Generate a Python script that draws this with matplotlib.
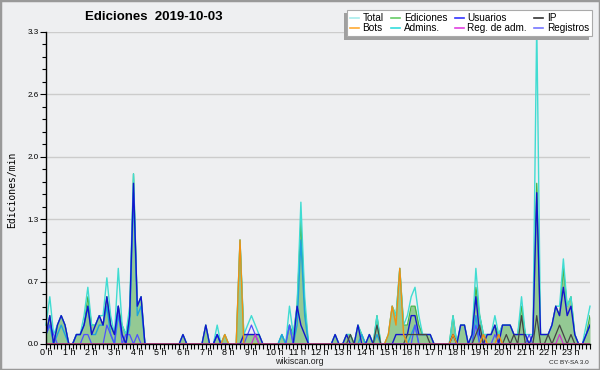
import matplotlib
matplotlib.use("Agg")
import matplotlib.pyplot as plt
from matplotlib.lines import Line2D
from matplotlib.patches import Rectangle
import numpy as np

# 10-minute bins (144 per day), values in edits per minute
total = [0.2,0.5,0.1,0.2,0.3,0.2, 0,0,0.1,0.1,0.3,0.6,
         0.2,0.2,0.3,0.3,0.7,0.3, 0.1,0.8,0.2,0.1,0.4,1.8,
         0.4,0.5,0,0,0,0, 0,0,0,0,0,0,
         0.1,0,0,0,0,0, 0.2,0,0,0.2,0,0.1,
         0,0,0,1.1,0.1,0.2, 0.3,0.2,0.1,0,0,0,
         0,0,0.1,0,0.4,0.1, 0.4,1.5,0.5,0,0,0,
         0,0,0,0,0.1,0, 0,0.1,0.1,0,0.2,0.1,
         0,0.1,0,0.3,0,0, 0.1,0.4,0.3,0.8,0.2,0.3,
         0.5,0.6,0.3,0.1,0.1,0.1, 0,0,0,0,0,0.3,
         0,0.2,0.2,0,0.1,0.8, 0.3,0.1,0.1,0.1,0.3,0.1,
         0.2,0.2,0.2,0.1,0.1,0.5, 0.1,0.1,0.1,3.4,0.1,0.1,
         0.1,0.2,0.4,0.4,0.9,0.4, 0.5,0.1,0,0,0.2,0.4]

edits = [0.1,0.3,0,0.2,0.3,0.2, 0,0,0.1,0.1,0.2,0.5,
         0.2,0.2,0.3,0.2,0.5,0.2, 0.1,0.4,0.2,0.1,0.3,1.8,
         0.4,0.5,0,0,0,0, 0,0,0,0,0,0,
         0.1,0,0,0,0,0, 0.2,0,0,0.1,0,0.1,
         0,0,0,1.1,0.1,0.1, 0.1,0.1,0.1,0,0,0,
         0,0,0.1,0,0.2,0.1, 0.4,1.3,0.4,0,0,0,
         0,0,0,0,0.1,0, 0,0.1,0.1,0,0.2,0.1,
         0,0.1,0,0.3,0,0, 0.1,0.4,0.3,0.8,0.2,0.2,
         0.4,0.4,0.2,0.1,0.1,0.1, 0,0,0,0,0,0.3,
         0,0.2,0.2,0,0.1,0.6, 0.3,0.1,0.1,0.1,0.2,0.1,
         0.2,0.2,0.2,0.1,0.1,0.4, 0.1,0,0.1,1.7,0.1,0.1,
         0.1,0.2,0.4,0.3,0.8,0.4, 0.5,0.1,0,0,0.1,0.3]

users = [0.1,0.3,0,0.2,0.3,0.2, 0,0,0.1,0.1,0.2,0.4,
         0.1,0.2,0.3,0.2,0.5,0.2, 0.1,0.4,0.1,0,0.3,1.7,
         0.4,0.5,0,0,0,0, 0,0,0,0,0,0,
         0.1,0,0,0,0,0, 0.2,0,0,0.1,0,0,
         0,0,0,0,0.1,0.1, 0.1,0.1,0.1,0,0,0,
         0,0,0,0,0,0, 0.4,0.2,0.1,0,0,0,
         0,0,0,0,0.1,0, 0,0.1,0,0,0.2,0,
         0,0.1,0,0,0,0, 0,0,0.1,0.1,0.1,0.1,
         0.3,0.3,0.1,0.1,0.1,0.1, 0,0,0,0,0,0.1,
         0,0.2,0.2,0,0.1,0.5, 0.1,0,0.1,0.1,0.2,0,
         0.2,0.2,0.2,0.1,0.1,0.1, 0.1,0,0.1,1.6,0.1,0.1,
         0.1,0.2,0.4,0.3,0.6,0.3, 0.4,0.1,0,0,0.1,0.2]

ip = [0,0,0,0,0,0, 0,0,0,0,0,0,
      0,0,0,0,0,0, 0,0,0,0,0,0,
      0,0,0,0,0,0, 0,0,0,0,0,0,
      0,0,0,0,0,0, 0,0,0,0,0,0,
      0,0,0,0,0,0, 0,0,0,0,0,0,
      0,0,0,0,0,0, 0,0,0,0,0,0,
      0,0,0,0,0,0, 0,0,0.1,0,0,0,
      0,0,0,0.2,0,0, 0,0,0,0,0,0.1,
      0.1,0.1,0.1,0.1,0.1,0, 0,0,0,0,0,0.1,
      0,0,0,0,0,0.1, 0.2,0,0,0,0,0,
      0,0.1,0,0.1,0,0.3, 0,0,0,0.3,0,0,
      0.1,0,0.1,0.2,0.1,0, 0.1,0,0,0,0,0]

bots = [0,0,0,0,0,0, 0,0,0,0,0,0,
        0,0,0,0,0,0, 0,0,0,0,0,0,
        0,0,0,0,0,0, 0,0,0,0,0,0,
        0,0,0,0,0,0, 0,0,0,0,0,0.1,
        0,0,0,1.1,0,0, 0,0,0,0,0,0,
        0,0,0,0,0,0, 0,0,0,0,0,0,
        0,0,0,0,0,0, 0,0,0,0,0,0,
        0,0,0,0,0,0, 0.1,0.4,0.2,0.8,0.1,0,
        0,0,0,0,0,0, 0,0,0,0,0,0.1,
        0,0,0,0,0,0, 0,0.1,0,0,0,0.1,
        0,0,0,0,0,0, 0,0,0,0,0,0,
        0,0,0,0,0,0, 0,0,0,0,0,0]

admins = [0.1,0.2,0,0.1,0.2,0.1, 0,0,0.1,0.1,0.2,0.4,
          0.1,0.1,0.2,0.2,0.4,0.1, 0,0.3,0.1,0,0.2,1.6,
          0.3,0.4,0,0,0,0, 0,0,0,0,0,0,
          0,0,0,0,0,0, 0,0,0,0.1,0,0,
          0,0,0,0,0,0, 0,0,0,0,0,0,
          0,0,0.1,0,0.2,0, 0.2,1.1,0.3,0,0,0,
          0,0,0,0,0,0, 0,0,0,0,0,0.1,
          0,0,0,0.1,0,0, 0,0,0,0,0,0,
          0.1,0.2,0,0,0,0, 0,0,0,0,0,0,
          0,0,0,0,0,0.3, 0,0,0,0,0,0,
          0,0,0,0,0,0, 0,0,0,0,0,0,
          0,0,0,0,0,0, 0,0,0,0,0.1,0.2]

admlogs = [0,0,0,0,0,0, 0,0,0,0,0,0,
           0,0,0,0,0,0, 0,0,0,0,0,0,
           0,0,0,0,0,0, 0,0,0,0,0,0,
           0,0,0,0,0,0, 0,0,0,0,0,0,
           0,0,0,0,0,0, 0,0.1,0,0,0,0,
           0,0,0,0,0,0, 0,0,0,0,0,0,
           0,0,0,0,0,0, 0,0,0,0,0,0,
           0,0,0,0,0,0, 0,0,0,0,0,0,
           0,0,0,0,0,0, 0,0,0,0,0,0,
           0,0,0,0,0,0, 0,0,0,0,0,0,
           0,0,0,0,0,0, 0,0,0,0,0,0,
           0,0,0,0.1,0,0, 0,0,0,0,0,0]

logs = [0.1,0.2,0.1,0,0,0, 0,0,0,0,0.1,0.1,
        0,0,0,0,0.2,0.1, 0,0.4,0,0.1,0.1,0,
        0.1,0,0,0,0,0, 0,0,0,0,0,0,
        0,0,0,0,0,0, 0,0,0,0.1,0,0,
        0,0,0,0,0,0.1, 0.2,0.1,0,0,0,0,
        0,0,0,0,0.2,0, 0,0,0,0,0,0,
        0,0,0,0,0,0, 0,0,0,0,0,0,
        0,0,0,0,0,0, 0,0,0,0,0,0,
        0,0.2,0,0,0,0, 0,0,0,0,0,0,
        0,0,0,0,0,0.2, 0,0,0,0,0.1,0,
        0,0,0,0,0,0, 0,0.1,0,0,0,0,
        0,0,0,0,0,0, 0,0,0,0,0,0]

hour_labels = [f"{h} h" for h in range(24)]
y_max = 3.3

BG = "#eeeff1"
plt.rcParams['font.family'] = ['Liberation Sans', 'DejaVu Sans']

fig = plt.figure(figsize=(6, 3.7), dpi=100, facecolor=BG)
ax = fig.add_axes([46/600, 1-344/370, 544/600, 312/370])
ax.set_facecolor(BG)

x = np.arange(len(total))
ax.fill_between(x, 0, edits, color="#94c994", lw=0, zorder=2)
ax.plot(x, edits, color="#44b444", lw=0.9, zorder=3)
ax.plot(x, total, color="#40dcd2", lw=1.0, zorder=4, clip_on=False)
ax.plot(x, admins, color="#1ea4dc", lw=1.0, zorder=5)
ax.plot(x, logs, color="#5050ff", lw=0.9, zorder=5)
ax.plot(x, users, color="#1414cc", lw=1.0, zorder=6)
ax.plot(x, ip, color="#444444", lw=0.9, zorder=6)
ax.plot(x, bots, color="#f09010", lw=1.0, zorder=7)
ax.plot(x, admlogs, color="#cc33cc", lw=0.9, zorder=7)

ax.set_xlim(0, len(total)-1)
ax.set_ylim(0, y_max)

major_y = np.linspace(0, y_max, 6)
ax.set_yticks(major_y)
ax.set_yticklabels([f"{v:.1f}" for v in major_y], fontsize=5.8)
ax.set_yticks(np.linspace(0, y_max, 26), minor=True)
for v in major_y[1:]:
    ax.axhline(v, color="#cccccc", lw=1, zorder=1)

ax.set_xticks(np.arange(0, 144, 6))
ax.set_xticklabels(hour_labels, fontsize=6.5)
ax.set_xticks(np.arange(0, 144, 1), minor=True)

ax.tick_params(axis='both', which='both', direction='out', length=4, width=0.8, color='black')
ax.tick_params(axis='x', which='both', length=3.5)
ax.tick_params(axis='y', which='minor', length=3)
ax.tick_params(axis='x', which='major', pad=-0.3)
ax.tick_params(axis='y', which='major', pad=1)
for s in ['top', 'right']:
    ax.spines[s].set_visible(False)
for s in ['left', 'bottom']:
    ax.spines[s].set_color('black')
    ax.spines[s].set_linewidth(1.0)
    ax.spines[s].set_zorder(10)

fig.text(85/600, 1-17/370, "Ediciones  2019-10-03", fontsize=9.5, fontweight='bold',
         ha='left', va='center')
fig.text(12/600, 1-190/370, "Ediciones/min", rotation=90, fontsize=7,
         family='DejaVu Sans Mono', ha='center', va='center')
fig.text(299/600, 1-362/370, "wikiscan.org", fontsize=6.3, ha='center', va='center', color='#222222')
fig.text(589/600, 1-362.5/370, "CC BY-SA 3.0", fontsize=4.6, ha='right', va='center', color='#222222')

# legend
leg_items = [("Total", "#a8ecec"), ("Bots", "#ffaa33"),
             ("Ediciones", "#66cc66"), ("Admins.", "#33dddd"),
             ("Usuarios", "#3333ff"), ("Reg. de adm.", "#e040e0"),
             ("IP", "#333333"), ("Registros", "#7777ff")]
handles = [Line2D([], [], color=c, lw=1.2) for _, c in leg_items]
labels = [n for n, _ in leg_items]
fig.add_artist(Rectangle((344/600, 1-40/370), 245/600, 27/370, transform=fig.transFigure,
                         facecolor="#a0a0a0", edgecolor='none', zorder=19))
leg = fig.legend(handles, labels, ncol=4, loc='upper left',
                 bbox_to_anchor=(347/600, 1-10/370, 245/600, 0), mode='expand',
                 fontsize=7.2, handlelength=0.9, handletextpad=0.35, columnspacing=0.5,
                 borderpad=0.3, labelspacing=0.0, frameon=True, fancybox=False,
                 borderaxespad=0)
leg.get_frame().set_facecolor('white')
leg.get_frame().set_edgecolor('#aaaaaa')
leg.get_frame().set_linewidth(0.8)
leg.get_frame().set_alpha(1)
leg.set_zorder(20)

fig.add_artist(Rectangle((0, 0), 1, 1, transform=fig.transFigure, fill=False,
                         edgecolor="#999999", lw=2.5, zorder=30))

fig.savefig("out.png", dpi=100, facecolor=BG)
